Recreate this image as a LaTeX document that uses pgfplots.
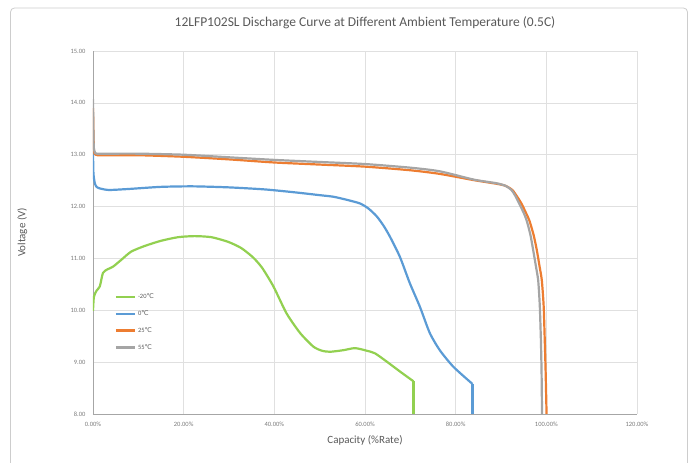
\documentclass[border=0pt]{standalone}
\usepackage{pgfplots}
\pgfplotsset{compat=1.18}
\usepackage{fontspec}
\setmainfont{Carlito}
\newfontfamily\dejavu{DejaVu Sans}
\definecolor{cgreen}{HTML}{92D050}
\definecolor{cblue}{HTML}{5B9BD5}
\definecolor{corange}{HTML}{ED7D31}
\definecolor{cgray}{HTML}{A5A5A5}
\definecolor{txt}{HTML}{595959}
\definecolor{gridc}{HTML}{E0E0E0}
\newcommand{\degc}{{\dejavu\char"2103}}
\begin{document}
\begin{tikzpicture}
\useasboundingbox (0pt,0pt) rectangle (689pt,463pt);
\draw[gridc!80!gray, line width=0.8pt, rounded corners=4pt] (10.5pt,-5pt) -- (10.5pt,455pt) -- (687.5pt,455pt) -- (687.5pt,-5pt);
\begin{axis}[
  at={(93pt,49pt)}, anchor=south west,
  scale only axis, width=544pt, height=363pt,
  xmin=0, xmax=120, ymin=8, ymax=15,
  xtick={0,20,40,60,80,100,120},
  xticklabels={0.00\%,20.00\%,40.00\%,60.00\%,80.00\%,100.00\%,120.00\%},
  ytick={8,9,10,11,12,13,14,15},
  ticklabel style={font=\fontsize{6.5}{7}\selectfont, text=txt!80},
  xticklabel style={yshift=-5pt},
  yticklabel style={xshift=-4pt},
  y tick label style={/pgf/number format/.cd,fixed,fixed zerofill,precision=2,assume math mode=true},
  tick style={draw=none},
  grid=major, major grid style={gridc, line width=0.6pt},
  axis x line*=bottom, axis y line*=left,
  axis line style={draw=gray!70, line width=0.8pt, -},
  title={12LFP102SL Discharge Curve at Different Ambient Temperature (0.5C)},
  title style={font=\fontsize{13.5}{15}\selectfont, text=txt, at={(axis description cs:0.5,1)}, anchor=south, yshift=13pt},
  xlabel={Capacity (\%Rate)},
  xlabel style={font=\fontsize{11}{12}\selectfont, text=txt, at={(axis description cs:0.5,0)}, anchor=center, yshift=-26pt},
  ylabel={Voltage (V)},
  ylabel style={font=\fontsize{11}{12}\selectfont, text=txt, at={(axis description cs:-0.13,0.5)}, anchor=center},
  legend style={at={(axis cs:4.7,10.36)}, anchor=north west, draw=none, fill=none,
    font=\fontsize{6.5}{7}\selectfont, text=txt, row sep=6.5pt, inner sep=0pt},
  legend cell align=left,
  legend image code/.code={\draw[#1, line width=2.5pt] (0pt,0pt) -- (19pt,0pt);},
  every axis plot/.append style={line width=2.2pt, line join=round},
]
\addplot[cgreen, smooth, tension=0.4] coordinates {
(0,9.99) (0.2,10.26) (0.8,10.38) (1.5,10.46) (2.2,10.72) (3.2,10.79) (4.4,10.84) (6.2,10.97) (8.4,11.13) (11.4,11.24) (15,11.34) (18.8,11.41) (22.4,11.43) (26.1,11.41) (29.8,11.32) (32.7,11.20) (35.3,11.02) (37.3,10.82) (39.8,10.46) (42.7,9.94) (45.7,9.56) (48.6,9.30) (50.5,9.22) (52.3,9.20) (55.2,9.23) (57.8,9.27) (60.4,9.22) (62.2,9.17) (64.8,9.01) (67.7,8.82) (70.7,8.63)
};
\addlegendentry{-20\degc}
\addplot[cblue, smooth, tension=0.4] coordinates {
(0,13.06) (0.1,12.64) (0.4,12.45) (0.8,12.38) (1.5,12.35) (3.5,12.32) (8,12.34) (15,12.38) (22,12.39) (30,12.37) (38,12.33) (45,12.27) (50,12.22) (53,12.19) (56,12.13) (58.9,12.06) (60.8,11.96) (62.6,11.81) (64.1,11.63) (65.5,11.42) (67.7,11.03) (69.9,10.52) (72.1,10.07) (74.3,9.56) (76.5,9.23) (79.5,8.91) (83.7,8.58)
};
\addlegendentry{0\degc}
\addplot[corange, smooth, tension=0.4] coordinates {
(0,13.9) (0.2,13.1) (0.6,13.0) (2,12.99) (10,12.99) (20,12.96) (30,12.91) (40,12.85) (50,12.81) (60,12.77) (70,12.70) (76.5,12.63) (84,12.51) (89,12.44) (91,12.40) (92.5,12.32) (93.5,12.2) (94.5,12.06) (95.5,11.88) (96.3,11.72) (97.2,11.45) (97.9,11.16) (98.5,10.85) (99,10.58) (99.4,10.1) (99.65,9.43) (99.85,8.8) (100.05,8.0)
};
\addlegendentry{25\degc}
\addplot[cgray, smooth, tension=0.4] coordinates {
(0,14.07) (0.15,13.2) (0.5,13.03) (2,13.02) (10,13.02) (20,13.0) (30,12.95) (40,12.9) (50,12.86) (60,12.82) (70,12.75) (76.5,12.68) (84,12.52) (89,12.45) (91,12.40) (92.3,12.32) (93.2,12.2) (94,12.06) (95,11.88) (95.7,11.72) (96.5,11.45) (97.1,11.16) (97.7,10.85) (98.2,10.58) (98.55,10.1) (98.8,9.43) (98.95,8.8) (99.05,8.0)
};
\addlegendentry{55\degc}
\addplot[cgreen, forget plot, line cap=butt] coordinates {(70.7,8.63) (70.7,8.0)};
\addplot[cblue, forget plot, line cap=butt] coordinates {(83.7,8.58) (83.7,8.0)};
\end{axis}
\end{tikzpicture}
\end{document}
